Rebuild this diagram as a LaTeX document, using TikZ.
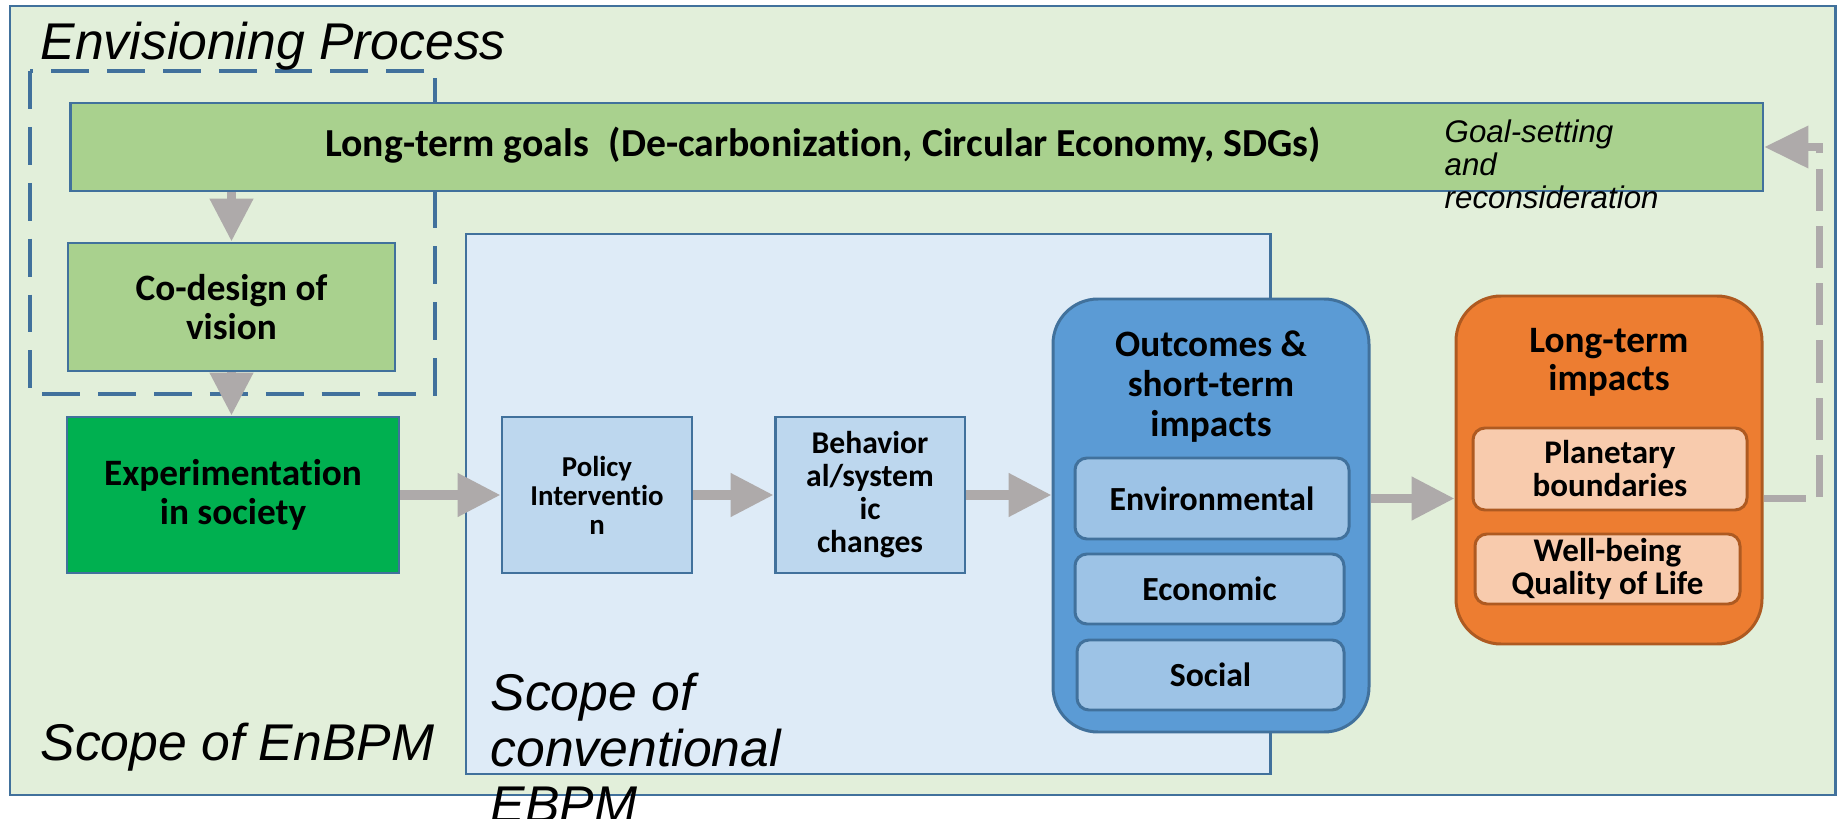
\documentclass[tikz,border=0pt]{standalone}
\usepackage{fontspec}
\setmainfont{Carlito}[Ligatures=NoCommon]
\newfontfamily\scopefont{Liberation Sans}
\usetikzlibrary{arrows.meta}

\definecolor{framecol}{HTML}{41719C}
\definecolor{paleGreen}{HTML}{E2EFDA}
\definecolor{paleBlue}{HTML}{DEEBF7}
\definecolor{goalGreen}{HTML}{A9D18E}
\definecolor{expGreen}{HTML}{00B050}
\definecolor{stepBlue}{HTML}{BDD7EE}
\definecolor{outBlue}{HTML}{5B9BD5}
\definecolor{subBlue}{HTML}{9DC3E6}
\definecolor{ltOrange}{HTML}{ED7D31}
\definecolor{ltBorder}{HTML}{AE5A21}
\definecolor{subOrange}{HTML}{F8CBAD}
\definecolor{arrowGray}{HTML}{AEAAAA}

\tikzset{
  frame/.style={draw=framecol, line width=0.85pt},
  envdash/.style={draw=framecol, line width=1.1pt, dash pattern=on 10.8pt off 5.1pt},
  box/.style={draw=framecol, line width=0.85pt, inner sep=0pt, align=center,
    font=\bfseries\fontsize{10.6}{11}\selectfont},
  stepbox/.style={box, fill=stepBlue, minimum width=19mm, minimum height=15.6mm},
  subblue/.style={box, fill=subBlue, rounded corners=1.2mm,
    font=\bfseries\fontsize{9.6}{9.6}\selectfont},
  suborange/.style={box, draw=ltBorder, fill=subOrange, rounded corners=1.2mm,
    font=\bfseries\fontsize{9.4}{9.4}\selectfont},
  boldtext/.style={inner sep=0pt, align=center, font=\bfseries\fontsize{10.6}{11}\selectfont},
  scopelabel/.style={inner sep=0pt, font=\scopefont\itshape\fontsize{14.7}{15.9}\selectfont},
  notetext/.style={inner sep=0pt, align=left, font=\scopefont\itshape\fontsize{8.9}{9.4}\selectfont},
  flow/.style={draw=arrowGray, line width=2.6pt, -{Triangle[length=12.2pt,width=11.8pt]}},
  back/.style={draw=arrowGray, line width=2pt, dash pattern=on 12pt off 4.3pt,
    -{Triangle[length=12.5pt,width=11.7pt]}}
}

\begin{document}
\begin{tikzpicture}[x=0.1mm, y=-0.1mm]
\useasboundingbox (0,0) rectangle (1839,819);

% the two scopes and the envisioning frame
\draw[frame, fill=paleGreen] (10,6) rectangle (1835,795);
\draw[frame, fill=paleBlue] (466,234) rectangle (1270,774);
\draw[envdash] (30,71) rectangle (435,394);

\node[scopelabel, anchor=base west] (envlabel) at (40,60) {Envisioning Process};
\node[scopelabel, anchor=base west] (enbpmlabel) at (40,760) {Scope of EnBPM};
\node[scopelabel, anchor=west, align=left] (ebpmlabel) at (490,748) {Scope of\\conventional\\EBPM};

% goals and vision
\node[box, fill=goalGreen, minimum width=169.3mm, minimum height=8.8mm] (goals) at (916.5,147) {};
\node[boldtext, anchor=base, font=\bfseries\fontsize{11.3}{11.3}\selectfont] (goalstext) at (823,156) {Long-term goals\hspace{0.5em}(De-carbonization, Circular Economy, SDGs)};
\node[notetext, anchor=west] (goalnote) at (1444,164) {Goal-setting\\and\\reconsideration};

\node[box, fill=goalGreen, minimum width=32.7mm, minimum height=12.8mm] (codesign) at (231.5,307) {Co-design of\\vision};
\node[box, fill=expGreen, minimum width=33.2mm, minimum height=15.6mm] (expt) at (233,495) {Experimentation\\in society};

% conventional chain
\node[stepbox, font=\bfseries\fontsize{8.2}{8.25}\selectfont] (policy) at (597,495) {Policy\\Interventio\\n};
\node[stepbox, font=\bfseries\fontsize{9}{9.4}\selectfont] (behav) at (870,495) {Behavior\\al/system\\ic\\changes};

\node[box, fill=outBlue, rounded corners=4.5mm, minimum width=31.6mm, minimum height=43.3mm] (outcomes) at (1211,515.5) {};
\node[boldtext, font=\bfseries\fontsize{10.6}{11.4}\selectfont] (outtitle) at (1211,387) {Outcomes \&\\short-term\\impacts};
\node[subblue, minimum width=27.4mm, minimum height=8.1mm] (env) at (1212,498.5) {Environmental};
\node[subblue, minimum width=26.9mm, minimum height=7mm] (econ) at (1209.5,589) {Economic};
\node[subblue, minimum width=26.7mm, minimum height=7mm] (social) at (1210.5,675) {Social};

\node[box, draw=ltBorder, fill=ltOrange, rounded corners=4.5mm, minimum width=30.6mm, minimum height=34.8mm] (lti) at (1609,470) {};
\node[boldtext, font=\bfseries\fontsize{10.6}{10.8}\selectfont] (ltititle) at (1609,362) {Long-term\\impacts};
\node[suborange, minimum width=27.4mm, minimum height=8.2mm] (planet) at (1610,469) {Planetary\\boundaries};
\node[suborange, minimum width=26.5mm, minimum height=7mm] (wellbeing) at (1607.5,569) {Well-being\\Quality of Life};

% arrows
\draw[flow] (codesign.north |- goals.south) -- (codesign.north);
\draw[flow] (codesign.south) -- (codesign.south |- expt.north);
\draw[flow] (expt) -- (policy);
\draw[flow] (policy) -- (behav);
\draw[flow] (behav.east) -- (behav.east -| outcomes.west);
\draw[flow] (env.east -| outcomes.east) -- (env.east -| lti.west);
\draw[back] (env.east -| lti.east) -- ++(56,0) |- (goals.east);

\end{tikzpicture}
\end{document}
